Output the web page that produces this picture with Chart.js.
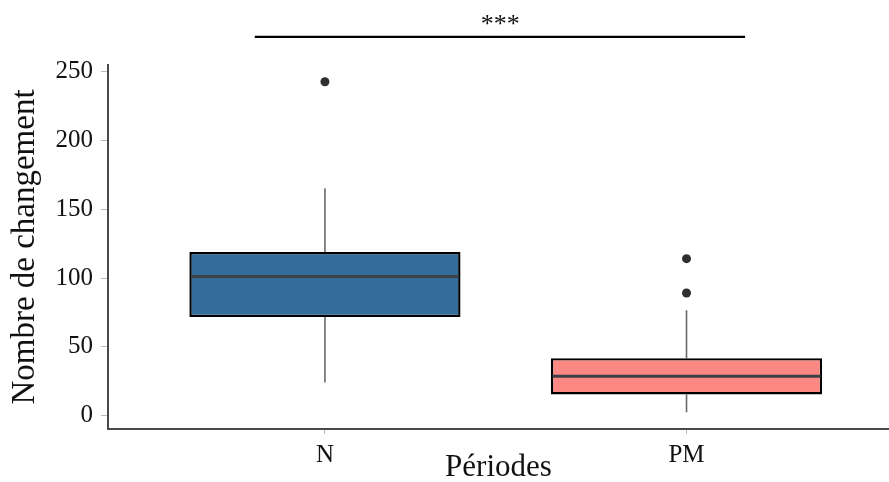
<!DOCTYPE html>
<html>
<head>
<meta charset="utf-8">
<script src="https://cdn.jsdelivr.net/npm/chart.js@4"></script>
<style>
  html, body { margin: 0; padding: 0; background: #ffffff; overflow: hidden; }
  #wrap { width: 889px; height: 482px; position: relative; }
</style>
</head>
<body>
<div id="wrap"><canvas id="boxChart"></canvas></div>
<script>
// values
const categories = ['N', 'PM'];
const q1 = [71.6, 15.3];
const median = [101.2, 28.6];
const q3 = [118.9, 41.7];
const whiskerLow = [24, 2.4];
const whiskerHigh = [165.3, 76.5];
const outliers = [[242.8], [114.1, 89.1]];
const yTicks = [0, 50, 100, 150, 200, 250];
const boxColors = ['#336e9a', '#fc8883'];
const sigLabel = '***';

Chart.defaults.font.family = "'Liberation Serif', 'Times New Roman', serif";
Chart.defaults.color = '#111111';

// whiskers, medians and the significance bracket, all placed with the chart's scales
const boxExtras = {
    id: 'boxExtras',
    beforeDatasetsDraw(chart) {
        const {ctx, scales: {x, y}} = chart;
        ctx.save();
        ctx.strokeStyle = '#6a6a6a';
        ctx.lineWidth = 1.6;
        categories.forEach((c, i) => {
            const px = x.getPixelForValue(i + 1);
            ctx.beginPath();
            ctx.moveTo(px, y.getPixelForValue(whiskerHigh[i]));
            ctx.lineTo(px, y.getPixelForValue(q3[i]));
            ctx.moveTo(px, y.getPixelForValue(q1[i]));
            ctx.lineTo(px, y.getPixelForValue(whiskerLow[i]));
            ctx.stroke();
        });
        ctx.restore();
    },
    afterDatasetsDraw(chart) {
        const {ctx, scales: {x, y}} = chart;
        const meta = chart.getDatasetMeta(0);
        ctx.save();
        ctx.strokeStyle = '#3d4146';
        ctx.lineWidth = 3;
        meta.data.forEach((bar, i) => {
            const half = bar.width / 2 - 1.5;
            const py = y.getPixelForValue(median[i]);
            ctx.beginPath();
            ctx.moveTo(bar.x - half, py);
            ctx.lineTo(bar.x + half, py);
            ctx.stroke();
        });

        // significance bracket between N and PM
        const sy = y.getPixelForValue(275.5);
        ctx.strokeStyle = '#000000';
        ctx.lineWidth = 2.2;
        ctx.beginPath();
        ctx.moveTo(x.getPixelForValue(0.806), sy);
        ctx.lineTo(x.getPixelForValue(2.162), sy);
        ctx.stroke();
        ctx.fillStyle = '#111111';
        ctx.font = "26px 'Liberation Serif', serif";
        ctx.textAlign = 'center';
        ctx.textBaseline = 'alphabetic';
        ctx.fillText(sigLabel, x.getPixelForValue(1.485), sy - 5);
        ctx.restore();
    }
};

const outlierPoints = [];
outliers.forEach((list, i) => list.forEach(v => outlierPoints.push({x: i + 1, y: v})));

new Chart(document.getElementById('boxChart'), {
    type: 'bar',
    data: {
        datasets: [
            {
                label: 'box',
                data: categories.map((c, i) => ({x: i + 1, y: [q1[i], q3[i]]})),
                backgroundColor: boxColors,
                borderColor: '#000000',
                borderWidth: 2.4,
                borderSkipped: false,
                categoryPercentage: 1,
                barPercentage: 0.75
            },
            {
                type: 'scatter',
                label: 'outliers',
                data: outlierPoints,
                pointRadius: 4.5,
                pointBackgroundColor: '#2f2f2f',
                pointBorderWidth: 0
            }
        ]
    },
    options: {
        responsive: true,
        maintainAspectRatio: false,
        animation: false,
        layout: { autoPadding: false, padding: { top: 65, right: 0, bottom: 0, left: 0 } },
        plugins: {
            legend: { display: false },
            tooltip: { enabled: false }
        },
        scales: {
            x: {
                type: 'linear',
                offset: false,
                min: 0.4,
                max: 2.56,
                afterBuildTicks: (s) => { s.ticks = categories.map((c, i) => ({value: i + 1})); },
                afterFit: (s) => { s.height = 53; s.paddingLeft = 0; s.paddingRight = 0; },
                ticks: {
                    font: { size: 25 },
                    color: '#111111',
                    padding: 6,
                    callback: (v) => categories[v - 1]
                },
                grid: { offset: false, drawOnChartArea: false, tickLength: 5, color: '#bbbbbb' },
                border: { color: '#4a4a4a', width: 2 },
                title: {
                    display: true,
                    text: 'Périodes',
                    font: { size: 31, lineHeight: 0.9 },
                    color: '#111111',
                    padding: { top: 0, bottom: 0 }
                }
            },
            y: {
                min: -9.8,
                max: 255,
                afterBuildTicks: (s) => { s.ticks = yTicks.map(v => ({value: v})); },
                afterFit: (s) => { s.width = 108; s.paddingTop = 0; s.paddingBottom = 0; },
                ticks: {
                    font: { size: 25 },
                    color: '#111111',
                    padding: 8
                },
                grid: { drawOnChartArea: false, tickLength: 7, color: '#bbbbbb' },
                border: { color: '#4a4a4a', width: 2 },
                title: {
                    display: true,
                    text: 'Nombre de changement',
                    font: { size: 33, lineHeight: 1.2 },
                    color: '#111111',
                    padding: { top: 6, bottom: 0 }
                }
            }
        }
    },
    plugins: [boxExtras]
});
</script>
</body>
</html>
